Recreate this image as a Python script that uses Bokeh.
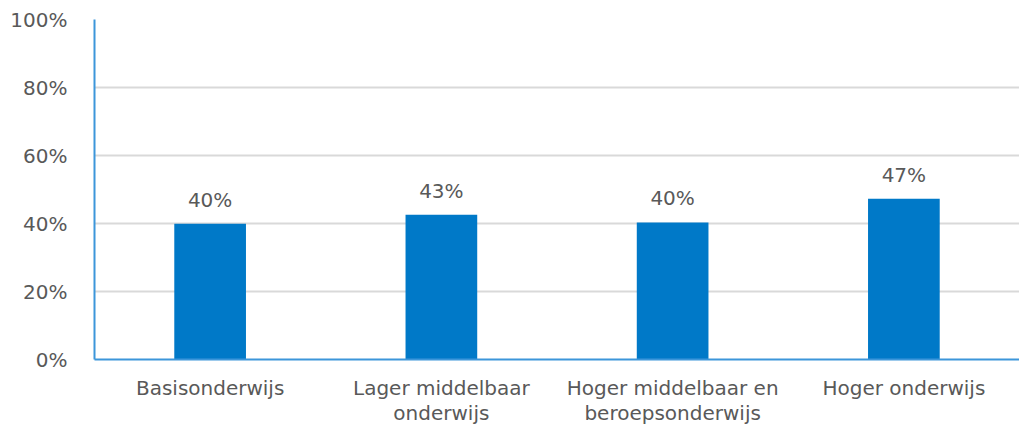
from bokeh.plotting import figure
from bokeh.models import ColumnDataSource, Range1d, FixedTicker, CustomJSTickFormatter, LabelSet
from bokeh.core.properties import value
from bokeh.embed import file_html
from bokeh.resources import INLINE

categories = ["Basisonderwijs", "Lager middelbaar\nonderwijs", "Hoger middelbaar en\nberoepsonderwijs", "Hoger onderwijs"]
values = [39.9, 42.6, 40.3, 47.3]
labels = ["40%", "43%", "40%", "47%"]
y_ticks = [0, 20, 40, 60, 80, 100]

FONT = "DejaVu Sans"
TEXT_COLOR = "#595959"
BAR_COLOR = "#0079C8"
AXIS_COLOR = "#3C96DA"

src = ColumnDataSource(dict(cat=categories, val=values, lab=labels))

p = figure(x_range=categories, y_range=Range1d(0, 100), width=1019, height=432,
           output_backend="svg", toolbar_location=None,
           min_border_left=94, min_border_right=0, min_border_top=19, min_border_bottom=73)
p.outline_line_color = None
p.background_fill_color = "white"

p.vbar(x="cat", top="val", width=0.31, source=src, fill_color=BAR_COLOR, line_color=None)

p.add_layout(LabelSet(x="cat", y="val", text="lab", source=src, text_align="center",
                      text_baseline="bottom", y_offset=12, text_font=value(FONT),
                      text_font_size="20px", text_color=TEXT_COLOR))

p.yaxis.ticker = FixedTicker(ticks=y_ticks)
p.yaxis.formatter = CustomJSTickFormatter(code="return tick + '%';")
p.yaxis.major_tick_line_color = None
p.yaxis.minor_tick_line_color = None
p.yaxis.axis_line_color = AXIS_COLOR
p.yaxis.axis_line_width = 2
p.yaxis.major_label_text_font = FONT
p.yaxis.major_label_text_font_size = "20px"
p.yaxis.major_label_text_color = TEXT_COLOR
p.yaxis.major_label_standoff = 21

p.xaxis.major_tick_line_color = None
p.xaxis.minor_tick_line_color = None
p.xaxis.axis_line_color = AXIS_COLOR
p.xaxis.axis_line_width = 2
p.xaxis.major_label_text_font = FONT
p.xaxis.major_label_text_font_size = "20px"
p.xaxis.major_label_text_color = TEXT_COLOR
p.xaxis.major_label_standoff = 10
p.xaxis.major_label_text_line_height = 1.05

p.xgrid.grid_line_color = None
p.ygrid.grid_line_color = "#D9D9D9"
p.ygrid.grid_line_width = 2
p.ygrid.ticker = FixedTicker(ticks=y_ticks)

open("out.html", "w").write(file_html(p, INLINE))
